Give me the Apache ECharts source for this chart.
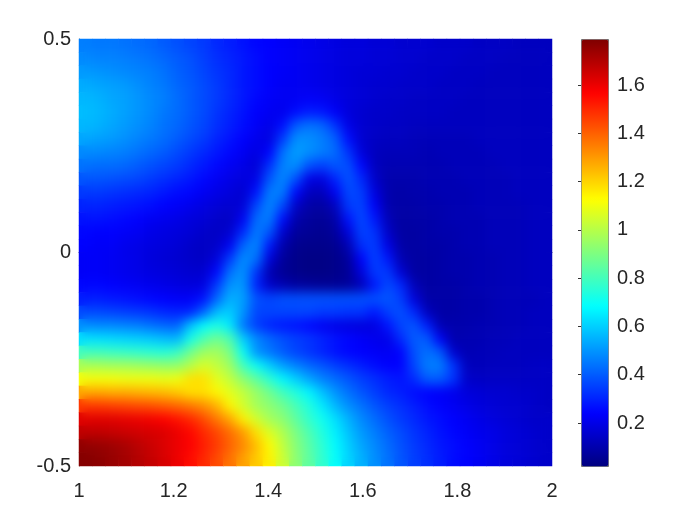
<!DOCTYPE html>
<html><head><meta charset="utf-8">
<style>html,body{margin:0;padding:0;background:#fff}#w{position:relative;width:700px;height:524px}#c{width:700px;height:524px}
#soft{position:absolute;left:80px;top:39px;width:472px;height:426px;-webkit-backdrop-filter:blur(6px);backdrop-filter:blur(6px);pointer-events:none}</style>
<script src="https://cdn.jsdelivr.net/npm/echarts@6/dist/echarts.min.js"></script>
</head><body><div id="w"><div id="c"></div><div id="soft"></div></div>
<script>
const xTicks = {min:1,max:2,step:0.2};
const yTicks = {min:-0.5,max:0.5,step:0.5};
const colorbarTicks = [0.2,0.4,0.6,0.8,1,1.2,1.4,1.6];
const colorMin = 0.02, colorMax = 1.79;
const jet = ['#00007f','#0000ff','#007fff','#00ffff','#7fff7f','#ffff00','#ff7f00','#ff0000','#7f0000'];
// rows run from the top of the plot (y=0.5) to the bottom (y=-0.5); columns from x=1 to x=2
const r00=[.46,.45,.45,.44,.43,.42,.40,.38,.36,.34,.31,.29,.27,.25,.24,.23,.22,.21,.20,.19,.18,.18,.17,.17,.16,.16,.16,.15,.15,.15,.14,.14,.14,.13,.13,.13];
const r01=[.48,.47,.47,.46,.45,.44,.42,.40,.38,.35,.32,.30,.28,.26,.24,.23,.22,.21,.20,.19,.18,.18,.17,.17,.16,.16,.15,.15,.15,.14,.14,.14,.13,.13,.13,.13];
const r02=[.51,.50,.49,.48,.47,.46,.44,.41,.39,.36,.33,.31,.28,.26,.24,.23,.22,.21,.20,.19,.18,.17,.17,.16,.16,.15,.15,.15,.14,.14,.14,.13,.13,.13,.13,.13];
const r03=[.54,.53,.52,.51,.49,.47,.45,.42,.40,.37,.34,.31,.28,.26,.24,.22,.22,.21,.20,.19,.18,.17,.16,.16,.15,.15,.15,.14,.14,.14,.13,.13,.13,.13,.13,.13];
const r04=[.56,.55,.53,.52,.50,.48,.46,.43,.40,.37,.34,.31,.28,.25,.23,.22,.22,.23,.22,.20,.18,.17,.16,.15,.15,.14,.14,.14,.14,.13,.13,.13,.13,.13,.13,.13];
const r05=[.57,.56,.54,.52,.50,.48,.45,.43,.40,.37,.33,.30,.27,.24,.22,.21,.26,.29,.28,.23,.18,.16,.15,.15,.14,.14,.14,.14,.13,.13,.13,.13,.13,.13,.13,.13];
const r06=[.56,.55,.53,.51,.49,.47,.44,.42,.39,.36,.32,.29,.26,.23,.20,.26,.40,.44,.42,.33,.20,.16,.15,.14,.14,.13,.13,.13,.13,.13,.13,.13,.13,.13,.13,.13];
const r07=[.53,.52,.51,.49,.47,.45,.43,.40,.37,.34,.30,.27,.24,.21,.19,.34,.49,.49,.46,.41,.26,.16,.14,.13,.13,.12,.12,.12,.12,.12,.13,.13,.13,.13,.13,.13];
const r08=[.48,.48,.47,.46,.44,.42,.40,.37,.34,.31,.28,.25,.22,.19,.24,.44,.52,.49,.46,.43,.33,.18,.13,.12,.12,.12,.11,.12,.12,.12,.12,.13,.13,.13,.13,.13];
const r09=[.44,.43,.43,.42,.40,.38,.36,.34,.31,.28,.25,.22,.20,.17,.32,.47,.49,.38,.35,.39,.38,.25,.13,.11,.11,.11,.11,.11,.12,.12,.12,.12,.13,.13,.13,.13];
const r10=[.39,.39,.38,.37,.36,.34,.32,.30,.28,.25,.22,.20,.18,.20,.39,.48,.38,.20,.18,.30,.39,.31,.15,.10,.10,.10,.11,.11,.11,.12,.12,.12,.12,.13,.13,.13];
const r11=[.34,.34,.33,.32,.31,.30,.28,.26,.25,.22,.20,.18,.16,.27,.46,.46,.25,.13,.12,.22,.37,.35,.19,.10,.09,.10,.10,.11,.11,.11,.12,.12,.12,.13,.13,.13];
const r12=[.30,.30,.29,.28,.27,.26,.24,.23,.21,.19,.17,.16,.17,.36,.48,.37,.15,.09,.08,.13,.34,.36,.23,.10,.09,.09,.10,.10,.11,.11,.12,.12,.12,.12,.13,.13];
const r13=[.27,.27,.26,.25,.24,.22,.21,.20,.18,.17,.15,.14,.22,.43,.46,.26,.10,.07,.06,.09,.27,.37,.28,.12,.08,.09,.09,.10,.11,.11,.11,.12,.12,.12,.13,.13];
const r14=[.25,.24,.24,.23,.22,.20,.19,.18,.17,.15,.14,.16,.31,.46,.39,.16,.07,.06,.05,.07,.18,.36,.33,.15,.08,.08,.09,.10,.10,.11,.11,.12,.12,.12,.13,.13];
const r15=[.24,.23,.23,.21,.20,.19,.18,.17,.15,.14,.15,.22,.42,.48,.28,.10,.05,.04,.04,.05,.11,.32,.35,.20,.09,.08,.09,.09,.10,.11,.11,.12,.12,.12,.13,.13];
const r16=[.23,.23,.22,.21,.20,.18,.17,.16,.15,.14,.18,.34,.49,.44,.18,.07,.04,.03,.03,.04,.07,.24,.36,.28,.11,.08,.08,.09,.10,.10,.11,.11,.12,.12,.13,.13];
const r17=[.23,.23,.22,.21,.20,.19,.18,.17,.16,.16,.25,.44,.50,.33,.11,.06,.04,.03,.03,.04,.06,.18,.34,.34,.17,.08,.08,.09,.10,.10,.11,.11,.12,.12,.13,.13];
const r18=[.25,.25,.24,.23,.22,.21,.20,.19,.18,.19,.34,.50,.51,.30,.15,.11,.08,.07,.06,.06,.07,.12,.28,.37,.31,.12,.08,.09,.09,.10,.11,.11,.12,.12,.13,.13];
const r19=[.29,.29,.28,.27,.26,.25,.24,.23,.23,.27,.42,.55,.52,.38,.36,.38,.38,.38,.38,.38,.38,.38,.38,.39,.35,.18,.09,.09,.09,.10,.10,.11,.12,.12,.12,.13];
const r20=[.37,.37,.36,.35,.34,.33,.31,.30,.31,.42,.57,.60,.50,.36,.36,.36,.36,.36,.34,.34,.33,.33,.28,.35,.38,.31,.13,.09,.09,.10,.10,.11,.12,.12,.13,.13];
const r21=[.49,.48,.48,.47,.46,.44,.42,.41,.58,.68,.73,.65,.45,.35,.30,.28,.27,.25,.22,.20,.19,.18,.19,.27,.36,.39,.29,.11,.10,.10,.11,.11,.12,.12,.13,.13];
const r22=[.63,.63,.62,.61,.60,.59,.57,.56,.72,.82,.88,.82,.60,.48,.42,.38,.35,.33,.30,.27,.25,.23,.21,.20,.31,.40,.40,.23,.10,.11,.11,.12,.12,.13,.13,.13];
const r23=[.80,.80,.79,.78,.77,.76,.75,.78,.88,.96,.97,.90,.70,.50,.45,.40,.36,.33,.30,.27,.25,.24,.23,.22,.24,.38,.44,.40,.16,.11,.12,.12,.13,.13,.13,.13];
const r24=[.98,.98,.97,.97,.96,.95,.94,.94,1.00,1.06,1.02,.96,.80,.70,.60,.52,.47,.42,.39,.35,.32,.29,.26,.24,.24,.36,.46,.46,.33,.13,.12,.13,.13,.13,.14,.14];
const r25=[1.11,1.11,1.11,1.10,1.10,1.10,1.09,1.10,1.18,1.18,1.08,1.02,.93,.85,.76,.67,.60,.53,.47,.43,.39,.35,.32,.29,.27,.31,.40,.40,.33,.15,.14,.14,.14,.14,.14,.14];
const r26=[1.28,1.28,1.27,1.27,1.26,1.25,1.24,1.22,1.18,1.18,1.14,1.08,1.02,.95,.88,.80,.74,.67,.58,.50,.44,.39,.35,.31,.29,.26,.24,.23,.21,.18,.17,.16,.16,.15,.15,.14];
const r27=[1.47,1.47,1.46,1.45,1.44,1.43,1.41,1.39,1.36,1.32,1.26,1.14,1.05,.97,.93,.88,.81,.74,.65,.56,.49,.44,.39,.35,.32,.29,.26,.24,.22,.20,.18,.17,.16,.16,.15,.14];
const r28=[1.62,1.62,1.62,1.61,1.60,1.59,1.57,1.54,1.50,1.44,1.36,1.28,1.15,1.05,.97,.93,.85,.77,.71,.63,.55,.48,.43,.38,.34,.31,.28,.26,.24,.22,.20,.18,.17,.16,.15,.15];
const r29=[1.68,1.68,1.67,1.66,1.65,1.64,1.63,1.60,1.56,1.50,1.45,1.38,1.30,1.18,1.07,.99,.90,.82,.74,.66,.58,.51,.46,.41,.37,.33,.30,.27,.25,.23,.21,.20,.18,.17,.16,.15];
const r30=[1.76,1.75,1.74,1.72,1.69,1.66,1.63,1.60,1.57,1.52,1.47,1.40,1.33,1.24,1.13,1.02,.92,.84,.76,.68,.60,.53,.48,.43,.38,.34,.31,.28,.26,.24,.22,.20,.18,.17,.16,.15];
const r31=[1.78,1.77,1.75,1.73,1.70,1.67,1.64,1.60,1.55,1.50,1.44,1.37,1.29,1.22,1.15,1.04,.93,.85,.77,.69,.61,.55,.49,.44,.39,.35,.32,.29,.26,.24,.22,.20,.18,.17,.16,.15];
const rows=[r00,r01,r02,r03,r04,r05,r06,r07,r08,r09,r10,r11,r12,r13,r14,r15,r16,r17,r18,r19,r20,r21,r22,r23,r24,r25,r26,r27,r28,r29,r30,r31];

const cells=[];
rows.forEach((r,j)=>r.forEach((v,i)=>cells.push([i,j,v])));
const colCats=r00.map((_,i)=>i), rowCats=rows.map((_,j)=>j);
const FONT='"Liberation Sans",Arial,sans-serif', TXT='#262626', LINE='#6e6e6e';
const chart=echarts.init(document.getElementById('c'),null,{renderer:'canvas'});
chart.setOption({
  animation:false,
  backgroundColor:'#fff',
  grid:[{left:79,top:39,width:473,height:427},{left:581,top:36.7,width:27,height:434.6}],
  xAxis:[
    {type:'value',gridIndex:0,min:xTicks.min,max:xTicks.max,interval:xTicks.step,position:'bottom',splitLine:{show:false},axisTick:{show:false},
     axisLine:{show:true,lineStyle:{color:LINE,width:1}},axisLabel:{color:TXT,fontFamily:FONT,fontSize:20,margin:15,hideOverlap:false}},
    {type:'category',gridIndex:0,data:colCats,show:false},
    {type:'value',gridIndex:1,min:0,max:1,show:false}
  ],
  yAxis:[
    {type:'value',gridIndex:0,min:yTicks.min,max:yTicks.max,interval:yTicks.step,position:'left',splitLine:{show:false},axisTick:{show:false},
     axisLine:{show:true,lineStyle:{color:LINE,width:1}},axisLabel:{color:TXT,fontFamily:FONT,fontSize:20,margin:8,padding:[3,0,0,0]}},
    {type:'category',gridIndex:0,data:rowCats,inverse:true,show:false},
    {type:'value',gridIndex:1,min:0,max:1.8,position:'right',splitLine:{show:false},axisLine:{show:false},
     axisTick:{show:true,inside:true,length:3,customValues:colorbarTicks,lineStyle:{color:'#333',width:1}},
     axisLabel:{color:TXT,fontFamily:FONT,fontSize:20,margin:9,padding:[2,0,0,0],customValues:colorbarTicks}}
  ],
  visualMap:{type:'continuous',min:colorMin,max:colorMax,seriesIndex:0,calculable:false,realtime:false,left:581,top:39,
    itemWidth:27,itemHeight:427,padding:0,text:['',''],showLabel:false,inRange:{color:jet},
    borderColor:LINE,borderWidth:1,hoverLink:false},
  series:[{type:'heatmap',xAxisIndex:1,yAxisIndex:1,data:cells,progressive:0,itemStyle:{borderWidth:0},emphasis:{disabled:true}}]
});
</script></body></html>
